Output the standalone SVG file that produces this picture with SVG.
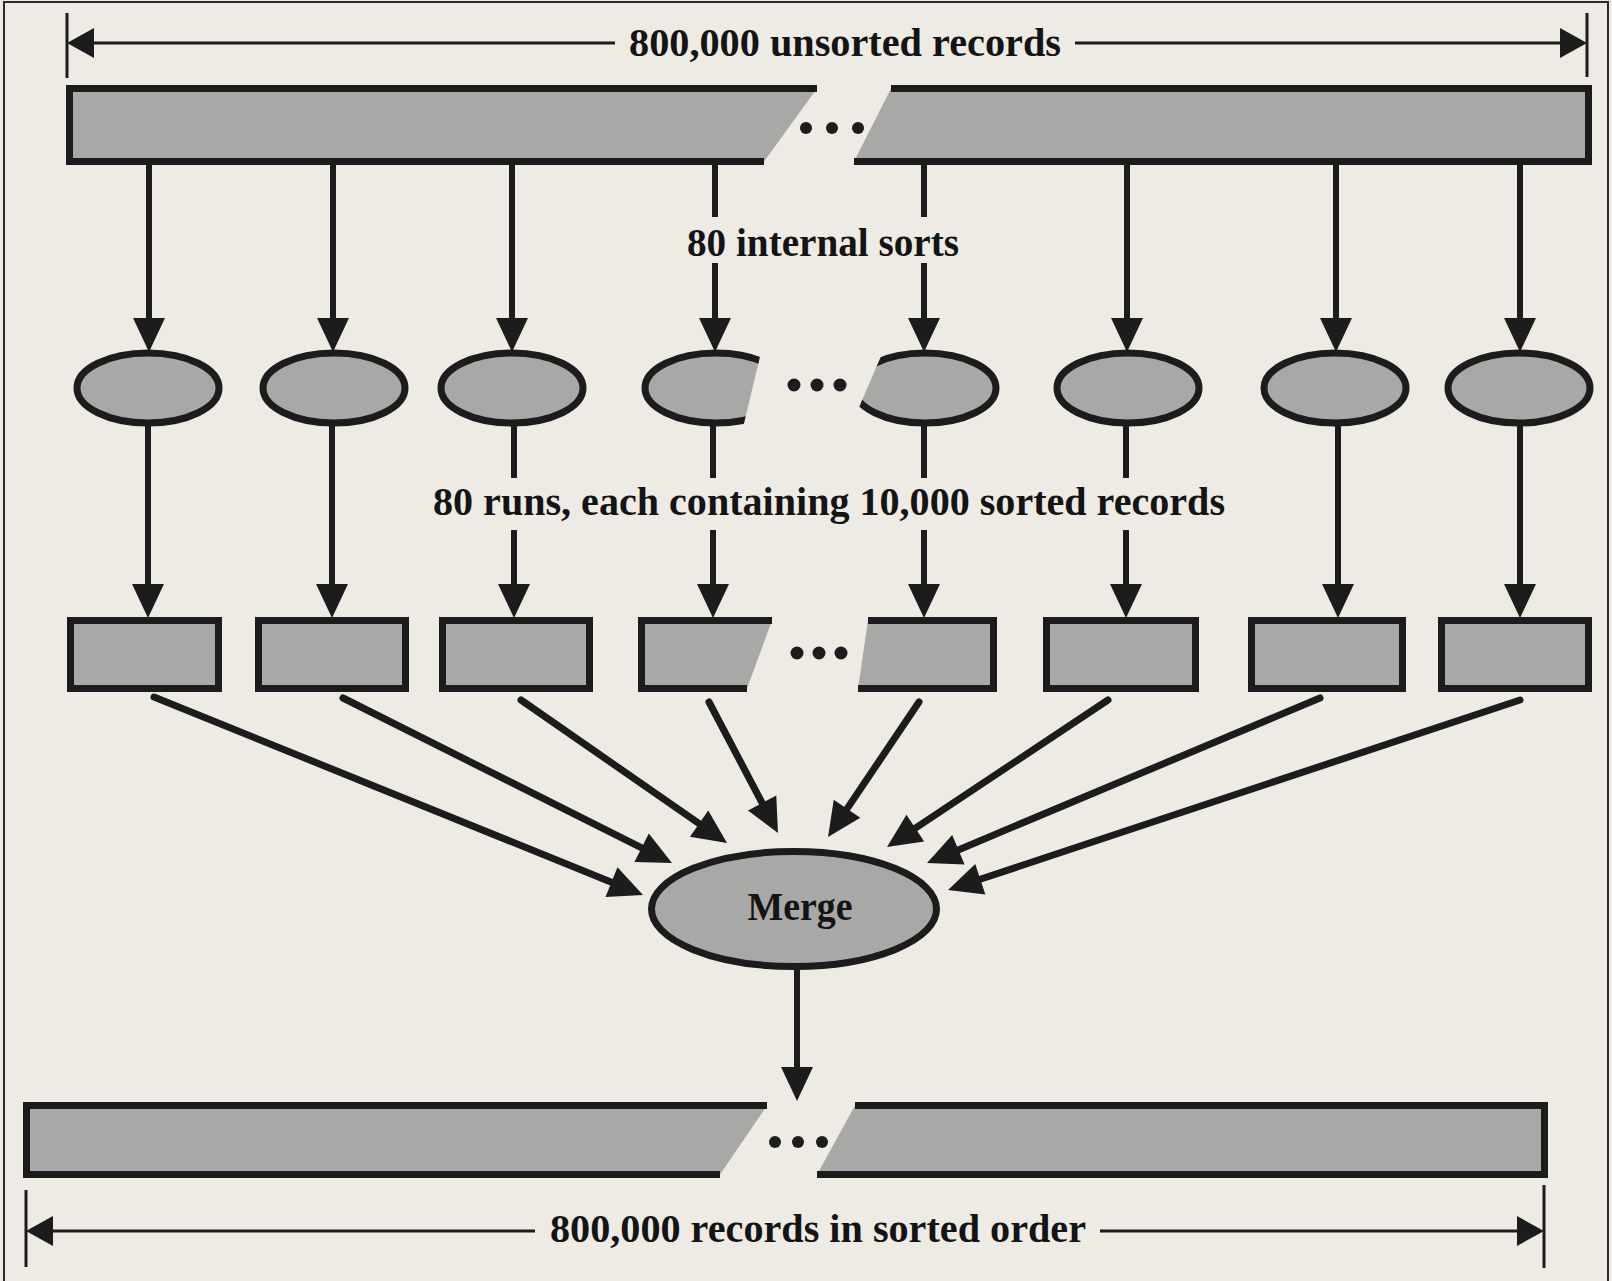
<svg xmlns="http://www.w3.org/2000/svg" width="1612" height="1281" viewBox="0 0 1612 1281">
<style>
  .bg { fill: #eeebe4; }
  .shape { fill: #a8a8a6; stroke: #1c1c1c; stroke-width: 7; stroke-linejoin: miter; }
  .conn { stroke: #1c1c1c; stroke-width: 6; fill: none; }
  .diag { stroke: #1c1c1c; stroke-width: 7; fill: none; stroke-linecap: round; }
  .dim { stroke: #1c1c1c; stroke-width: 3; fill: none; }
  .tick { stroke: #1c1c1c; stroke-width: 3; }
  .dot { fill: #1c1c1c; }
  .lbl { font-family: "Liberation Serif", "Times New Roman", serif; font-weight: bold; font-size: 40px; fill: #141414; }
</style>
<defs>
  <marker id="ah" markerUnits="userSpaceOnUse" viewBox="-2 -17 40 34" markerWidth="40" markerHeight="34" refX="4" refY="0" orient="auto">
    <path d="M0,-16 L34,0 L0,16 Z" fill="#1c1c1c"/>
  </marker>
  <marker id="dh" markerUnits="userSpaceOnUse" viewBox="-2 -16 32 32" markerWidth="32" markerHeight="32" refX="4" refY="0" orient="auto">
    <path d="M0,-15 L27,0 L0,15 Z" fill="#1c1c1c"/>
  </marker>
  <clipPath id="cut4"><polygon points="600,340 764,340 740,440 600,440"/></clipPath>
  <clipPath id="cut5"><polygon points="888,340 1010,340 1010,440 845,440"/></clipPath>
</defs>
<rect class="bg" x="0" y="0" width="1612" height="1281"/>
<rect x="4" y="2" width="1604" height="1300" fill="none" stroke="#2a2a2a" stroke-width="2"/>

<g id="dimension-top">
  <line class="tick" x1="67" y1="13" x2="67" y2="78"/>
  <line class="tick" x1="1587" y1="13" x2="1587" y2="77"/>
  <line class="dim" x1="615" y1="43" x2="90" y2="43" marker-end="url(#dh)"/>
  <line class="dim" x1="1075" y1="43" x2="1564" y2="43" marker-end="url(#dh)"/>
  <text class="lbl" x="629" y="56" textLength="432" lengthAdjust="spacingAndGlyphs">800,000 unsorted records</text>
</g>

<g id="unsorted-file">
  <path class="shape" d="M817,88.5 L69.5,88.5 L69.5,161.5 L764,161.5"/>
  <path class="shape" d="M891,88.5 L1588.5,88.5 L1588.5,161.5 L854,161.5"/>
  <circle class="dot" cx="806" cy="128" r="6"/>
  <circle class="dot" cx="832" cy="128" r="6"/>
  <circle class="dot" cx="858" cy="128" r="6"/>
</g>

<g id="label-internal-sorts">
  <text class="lbl" x="687" y="256" textLength="272" lengthAdjust="spacingAndGlyphs">80 internal sorts</text>
</g>

<g id="sorts">
  <ellipse id="sort1" class="shape" cx="148" cy="388" rx="71" ry="35"/>
  <ellipse id="sort2" class="shape" cx="334" cy="388" rx="71" ry="35"/>
  <ellipse id="sort3" class="shape" cx="512" cy="388" rx="71" ry="35"/>
  <ellipse id="sort4" class="shape" cx="716" cy="388" rx="71" ry="35" clip-path="url(#cut4)"/>
  <ellipse id="sort5" class="shape" cx="925" cy="388" rx="71" ry="35" clip-path="url(#cut5)"/>
  <ellipse id="sort6" class="shape" cx="1128" cy="388" rx="71" ry="35"/>
  <ellipse id="sort7" class="shape" cx="1335" cy="388" rx="71" ry="35"/>
  <ellipse id="sort8" class="shape" cx="1519" cy="388" rx="71" ry="35"/>
  <circle class="dot" cx="794" cy="385" r="6.5"/>
  <circle class="dot" cx="817" cy="385" r="6.5"/>
  <circle class="dot" cx="840" cy="385" r="6.5"/>
</g>

<g id="label-runs">
  <text class="lbl" x="433" y="515" textLength="792" lengthAdjust="spacingAndGlyphs">80 runs, each containing 10,000 sorted records</text>
</g>

<g id="runs">
  <rect id="run1" class="shape" x="70.5" y="620.5" width="148" height="68"/>
  <rect id="run2" class="shape" x="258.5" y="620.5" width="147" height="68"/>
  <rect id="run3" class="shape" x="442.5" y="620.5" width="147" height="68"/>
  <path id="run4" class="shape" d="M772,620.5 L641.5,620.5 L641.5,688.5 L747,688.5"/>
  <path id="run5" class="shape" d="M868,620.5 L993.5,620.5 L993.5,688.5 L858,688.5"/>
  <rect id="run6" class="shape" x="1046.5" y="620.5" width="149" height="68"/>
  <rect id="run7" class="shape" x="1251.5" y="620.5" width="151" height="68"/>
  <rect id="run8" class="shape" x="1441.5" y="620.5" width="147" height="68"/>
  <circle class="dot" cx="797" cy="653" r="6.5"/>
  <circle class="dot" cx="819" cy="653" r="6.5"/>
  <circle class="dot" cx="841" cy="653" r="6.5"/>
</g>

<g id="merge">
  <ellipse class="shape" cx="794" cy="909" rx="142.5" ry="57.5"/>
  <text class="lbl" x="800" y="920" text-anchor="middle" font-size="38" textLength="105" lengthAdjust="spacingAndGlyphs">Merge</text>
</g>

<g id="sorted-file">
  <path class="shape" d="M767,1105.5 L26.5,1105.5 L26.5,1174.5 L720,1174.5"/>
  <path class="shape" d="M855,1105.5 L1544.5,1105.5 L1544.5,1174.5 L817,1174.5"/>
  <circle class="dot" cx="775" cy="1142" r="6"/>
  <circle class="dot" cx="798" cy="1142" r="6"/>
  <circle class="dot" cx="822" cy="1142" r="6"/>
</g>

<g id="dimension-bottom">
  <line class="tick" x1="26" y1="1190" x2="26" y2="1267"/>
  <line class="tick" x1="1544" y1="1185" x2="1544" y2="1268"/>
  <line class="dim" x1="535" y1="1231" x2="49" y2="1231" marker-end="url(#dh)"/>
  <line class="dim" x1="1100" y1="1231" x2="1521" y2="1231" marker-end="url(#dh)"/>
  <text class="lbl" x="550" y="1242" textLength="536" lengthAdjust="spacingAndGlyphs">800,000 records in sorted order</text>
</g>

<g id="connectors">
  <!-- file to internal sorts -->
  <line class="conn" x1="149" y1="163" x2="149" y2="322" marker-end="url(#ah)"/>
  <line class="conn" x1="333" y1="163" x2="333" y2="322" marker-end="url(#ah)"/>
  <line class="conn" x1="512" y1="163" x2="512" y2="322" marker-end="url(#ah)"/>
  <line class="conn" x1="715" y1="163" x2="715" y2="217"/>
  <line class="conn" x1="715" y1="263" x2="715" y2="322" marker-end="url(#ah)"/>
  <line class="conn" x1="924" y1="163" x2="924" y2="217"/>
  <line class="conn" x1="924" y1="263" x2="924" y2="322" marker-end="url(#ah)"/>
  <line class="conn" x1="1127" y1="163" x2="1127" y2="322" marker-end="url(#ah)"/>
  <line class="conn" x1="1336" y1="163" x2="1336" y2="322" marker-end="url(#ah)"/>
  <line class="conn" x1="1520" y1="163" x2="1520" y2="322" marker-end="url(#ah)"/>
  <!-- sorts to runs -->
  <line class="conn" x1="148" y1="423" x2="148" y2="588" marker-end="url(#ah)"/>
  <line class="conn" x1="332" y1="423" x2="332" y2="588" marker-end="url(#ah)"/>
  <line class="conn" x1="514" y1="423" x2="514" y2="478"/>
  <line class="conn" x1="514" y1="530" x2="514" y2="588" marker-end="url(#ah)"/>
  <line class="conn" x1="713" y1="423" x2="713" y2="478"/>
  <line class="conn" x1="713" y1="530" x2="713" y2="588" marker-end="url(#ah)"/>
  <line class="conn" x1="924" y1="423" x2="924" y2="478"/>
  <line class="conn" x1="924" y1="530" x2="924" y2="588" marker-end="url(#ah)"/>
  <line class="conn" x1="1126" y1="423" x2="1126" y2="478"/>
  <line class="conn" x1="1126" y1="530" x2="1126" y2="588" marker-end="url(#ah)"/>
  <line class="conn" x1="1338" y1="423" x2="1338" y2="588" marker-end="url(#ah)"/>
  <line class="conn" x1="1520" y1="423" x2="1520" y2="588" marker-end="url(#ah)"/>
  <!-- runs to merge -->
  <line class="diag" x1="154" y1="697" x2="615.2" y2="883.7" marker-end="url(#ah)"/>
  <line class="diag" x1="343" y1="698" x2="645.2" y2="849.6" marker-end="url(#ah)"/>
  <line class="diag" x1="521" y1="700" x2="702.4" y2="825.9" marker-end="url(#ah)"/>
  <line class="diag" x1="709" y1="702" x2="764.0" y2="806.5" marker-end="url(#ah)"/>
  <line class="diag" x1="919" y1="702" x2="844.8" y2="812.1" marker-end="url(#ah)"/>
  <line class="diag" x1="1108" y1="700" x2="912.0" y2="830.4" marker-end="url(#ah)"/>
  <line class="diag" x1="1320" y1="698" x2="954.7" y2="851.4" marker-end="url(#ah)"/>
  <line class="diag" x1="1520" y1="700" x2="976.5" y2="880.5" marker-end="url(#ah)"/>
  <!-- merge to sorted file -->
  <line class="conn" x1="797" y1="966" x2="797" y2="1071" marker-end="url(#ah)"/>
</g>
</svg>
